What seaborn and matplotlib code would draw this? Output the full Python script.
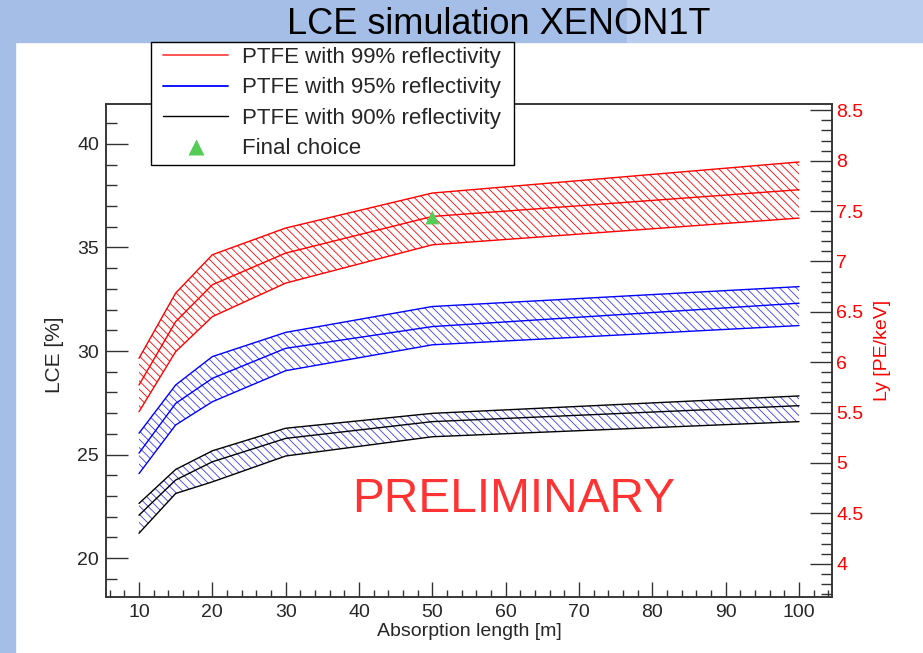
import numpy as np
import pandas as pd
import matplotlib
matplotlib.use("Agg")
import matplotlib.pyplot as plt
import seaborn as sns
from matplotlib.lines import Line2D
from matplotlib.patches import Rectangle
from matplotlib.ticker import MultipleLocator, FuncFormatter

# ---------------- data ----------------
absorption_length = [10, 15, 20, 30, 50, 100]

red_hi = [29.65, 32.80, 34.65, 35.94, 37.63, 39.13]
red_mid = [28.36, 31.42, 33.20, 34.73, 36.50, 37.79]
red_lo = [27.07, 29.97, 31.66, 33.28, 35.13, 36.42]

blue_hi = [26.03, 28.36, 29.73, 30.90, 32.15, 33.11]
blue_mid = [25.07, 27.47, 28.68, 30.13, 31.18, 32.31]
blue_lo = [24.08, 26.43, 27.55, 29.05, 30.30, 31.23]

black_hi = [22.64, 24.28, 25.18, 26.27, 26.99, 27.83]
black_mid = [22.07, 23.77, 24.65, 25.78, 26.59, 27.36]
black_lo = [21.20, 23.12, 23.68, 24.93, 25.86, 26.59]

final_x = [50]
final_y = [36.45]

legend_labels = ["PTFE with 99% reflectivity", "PTFE with 95% reflectivity",
                 "PTFE with 90% reflectivity", "Final choice"]

# ---------------- style ----------------
sns.set_style("ticks")
plt.rcParams["font.family"] = ["Liberation Sans", "DejaVu Sans"]
plt.rcParams["hatch.linewidth"] = 0.6

HATCH = chr(92) * 4  # dense "\\" hatch

W, H = 923, 653
fig = plt.figure(figsize=(W / 100, H / 100), dpi=100)
fig.patch.set_facecolor("white")

# slide decoration
fig.add_artist(Rectangle((0, 0), 15 / W, 1, transform=fig.transFigure,
                         color="#a5bee7", zorder=-2))
fig.add_artist(Rectangle((0, 1 - 42 / H), 627 / W, 42 / H, transform=fig.transFigure,
                         color="#a5bee7", zorder=-2))
fig.add_artist(Rectangle((627 / W, 1 - 42 / H), 1 - 627 / W, 42 / H,
                         transform=fig.transFigure, color="#b9cdef", zorder=-2))
fig.text(499 / W, 1 - 34 / H, "LCE simulation XENON1T", ha="center", va="baseline",
         fontsize=26, color="black")

ax = fig.add_axes([106 / W, 1 - 597 / H, (832 - 106) / W, (597 - 104) / H])

bands = [
    ("99", red_lo, red_mid, red_hi, "#ff0000", "#ff0000"),
    ("95", blue_lo, blue_mid, blue_hi, "#0000ff", "#3a3aff"),
    ("90", black_lo, black_mid, black_hi, "#000000", "#3a3aff"),
]

rows = []
palette = {}
for name, lo, mid, hi, col, hcol in bands:
    ax.fill_between(absorption_length, lo, hi, facecolor="none", edgecolor=hcol,
                    linewidth=0, hatch=HATCH, zorder=1)
    for tag, arr in (("lo", lo), ("mid", mid), ("hi", hi)):
        key = f"{name}_{tag}"
        palette[key] = col
        for xv, yv in zip(absorption_length, arr):
            rows.append({"x": xv, "LCE": yv, "series": key})
df = pd.DataFrame(rows)

sns.lineplot(data=df, x="x", y="LCE", hue="series", palette=palette,
             estimator=None, sort=False, legend=False, linewidth=1.0, ax=ax, zorder=2)
sns.scatterplot(x=final_x, y=final_y, marker="^", color="#55cc55", s=100,
                edgecolor="none", legend=False, ax=ax, zorder=5)

ax.text(61.1, 22.23, "PRELIMINARY", color="#ff3333", fontsize=34.5,
        ha="center", va="baseline")

ax.set_xlim(5.5, 104.5)
ax.set_ylim(18.12, 41.93)
ax.xaxis.set_major_locator(MultipleLocator(10))
ax.xaxis.set_minor_locator(MultipleLocator(2))
ax.yaxis.set_major_locator(MultipleLocator(5))
ax.yaxis.set_minor_locator(MultipleLocator(1))

spine_col = "#333333"
for s in ax.spines.values():
    s.set_visible(True)
    s.set_color(spine_col)
    s.set_linewidth(1.1)

ax.tick_params(axis="x", which="major", direction="in", length=10.8, width=1,
               color=spine_col, top=False, bottom=True, labelsize=14, pad=5)
ax.tick_params(axis="x", which="minor", direction="in", length=5, width=1,
               color=spine_col, top=False, bottom=True)
ax.tick_params(axis="y", which="major", direction="in", length=15.8, width=1,
               color=spine_col, left=True, right=False, labelsize=14, pad=5)
ax.tick_params(axis="y", which="minor", direction="in", length=7.9, width=1,
               color=spine_col, left=True, right=False)

ax.set_xlabel("Absorption length [m]", fontsize=14, va="center")
ax.xaxis.set_label_coords((469.5 - 106) / 726, (597 - 631) / 493)
ax.set_ylabel("LCE [%]", fontsize=15, va="center")
ax.yaxis.set_label_coords((54 - 106) / 726, (597 - 355) / 493)

ax2 = ax.twinx()
ax2.set_ylim(3.669, 8.563)
ax2.yaxis.set_major_locator(MultipleLocator(0.5))
ax2.yaxis.set_minor_locator(MultipleLocator(0.1))
ax2.yaxis.set_major_formatter(FuncFormatter(lambda v, p: f"{v:g}"))
for s in ax2.spines.values():
    s.set_color(spine_col)
    s.set_linewidth(1.1)
ax2.tick_params(axis="y", which="major", direction="in", length=15.8, width=1,
                color=spine_col, labelcolor="#ff0000", labelsize=14, pad=3,
                right=True, left=False)
ax2.tick_params(axis="y", which="minor", direction="in", length=7.9, width=1,
                color=spine_col, right=True, left=False)
ax2.set_ylabel("Ly [PE/keV]", fontsize=14, color="#ff0000", va="center")
ax2.yaxis.set_label_coords((883 - 106) / 726, (597 - 350) / 493)

# legend: frame drawn separately for exact placement
fig.add_artist(Rectangle((151 / W, 1 - 165 / H), (514 - 151) / W, (165 - 42) / H,
                         transform=fig.transFigure, facecolor="white",
                         edgecolor="black", linewidth=1.0, zorder=9))
handles = [
    Line2D([], [], color="#ff4444", lw=1.3),
    Line2D([], [], color="#0000ff", lw=1.3),
    Line2D([], [], color="#000000", lw=1.0),
    Line2D([], [], marker="^", color="#55cc55", linestyle="none", markersize=11,
           markeredgecolor="none"),
]
leg = fig.legend(handles, legend_labels, loc="upper left",
                 bbox_to_anchor=(163 / W, 1 - 46.8 / H), bbox_transform=fig.transFigure,
                 frameon=False, fontsize=16, handlelength=2.93, handletextpad=0.63,
                 labelspacing=0.43, borderpad=0, borderaxespad=0)
leg.set_zorder(10)

fig.savefig("out.png", dpi=100)
